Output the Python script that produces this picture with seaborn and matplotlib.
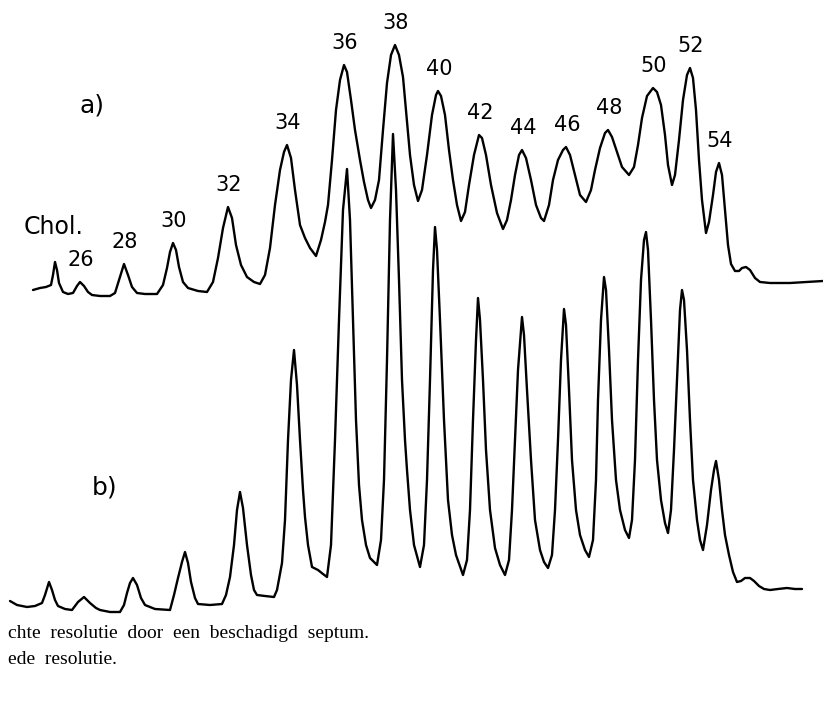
import matplotlib
matplotlib.use("Agg")
import matplotlib.pyplot as plt
import seaborn as sns
import pandas as pd

# ---------------- data ----------------
# trace a) : damaged septum, poor resolution  (time, signal)
a_time = [33, 40, 46, 51, 53, 55, 57, 59, 63, 68, 73, 77, 80, 84, 88, 92, 100, 110, 115, 119, 124, 128, 132, 137,
          145, 157, 163, 167, 170, 173, 176, 179, 183, 188, 198, 207, 213, 218, 223, 228, 232, 236, 241, 247, 254,
          260, 265, 270, 275, 280, 284, 287, 291, 295, 300, 305, 310, 316, 321, 325, 328, 332, 336, 340, 344, 347,
          351, 355, 360, 364, 368, 371, 375, 379, 383, 387, 391, 395, 399, 403, 406, 410, 414, 418, 422, 427, 432,
          436, 438, 441, 445, 449, 453, 457, 461, 465, 469, 474, 479, 482, 486, 491, 497, 503, 507, 511, 515, 519,
          522, 526, 531, 536, 541, 544, 549, 553, 558, 563, 566, 570, 575, 580, 586, 591, 595, 600, 605, 608, 612,
          617, 622, 629, 634, 638, 642, 647, 653, 657, 661, 665, 668, 672, 675, 679, 683, 687, 690, 693, 696, 699,
          702, 706, 709, 713, 716, 719, 722, 725, 728, 731, 735, 739, 742, 746, 750, 755, 760, 770, 790, 823]
a_page = [290, 288, 287, 285, 275, 262, 270, 283, 292, 294, 293, 286, 282, 286, 292, 295, 296, 296, 293, 280, 264, 275,
          287, 293, 294, 294, 285, 268, 252, 243, 250, 267, 282, 288, 291, 292, 282, 258, 228, 207, 218, 245, 265,
          277, 282, 284, 275, 248, 205, 170, 152, 145, 158, 190, 225, 238, 248, 256, 240, 222, 205, 160, 110, 80,
          65, 72, 100, 130, 160, 182, 200, 208, 200, 180, 130, 83, 55, 45, 55, 77, 110, 155, 185, 201, 190, 155,
          115, 95, 91, 96, 115, 150, 180, 205, 221, 212, 185, 155, 135, 138, 155, 185, 213, 229, 220, 200, 175,
          155, 150, 158, 180, 205, 218, 221, 205, 180, 160, 150, 147, 155, 175, 195, 202, 190, 170, 148, 133, 130,
          137, 152, 167, 175, 167, 145, 118, 96, 88, 92, 105, 135, 165, 185, 175, 140, 100, 75, 68, 78, 110, 160,
          200, 233, 222, 195, 172, 163, 175, 210, 245, 264, 271, 271, 268, 267, 270, 278, 282, 283, 283, 281]

# trace b) : good resolution
b_time = [10, 17, 27, 35, 42, 45, 49, 52, 55, 58, 65, 72, 78, 84, 90, 96, 100, 110, 120, 124, 127, 130, 133, 137, 141,
          145, 155, 170, 174, 178, 182, 185, 188, 191, 195, 198, 210, 222, 226, 230, 234, 237, 240, 243, 247, 251,
          254, 257, 265, 274, 277, 282, 285, 288, 291, 294, 297, 300, 303, 305, 308, 312, 318, 323, 327, 331, 335,
          339, 343, 347, 350, 353, 356, 359, 362, 366, 370, 377, 381, 384, 387, 390, 393, 396, 399, 402, 405, 407,
          410, 414, 420, 424, 427, 430, 433, 435, 437, 440, 444, 448, 452, 456, 463, 467, 470, 473, 476, 478, 480,
          483, 486, 490, 495, 500, 505, 509, 512, 515, 518, 522, 524, 527, 531, 535, 540, 544, 548, 552, 555, 558,
          561, 564, 566, 569, 572, 576, 580, 585, 589, 593, 596, 598, 601, 604, 606, 609, 612, 616, 620, 625, 629,
          632, 635, 638, 641, 644, 646, 648, 651, 654, 657, 661, 665, 668, 671, 674, 677, 680, 682, 684, 687, 690,
          693, 697, 700, 703, 707, 711, 714, 716, 719, 722, 725, 729, 733, 737, 741, 745, 750, 754, 759, 764, 770,
          778, 787, 795, 802]
b_page = [601, 605, 607, 606, 603, 595, 582, 590, 600, 606, 609, 610, 602, 597, 603, 608, 610, 612, 612, 605, 593, 583,
          578, 585, 598, 605, 609, 610, 595, 578, 562, 552, 563, 582, 598, 604, 605, 604, 595, 577, 545, 510, 492,
          508, 545, 575, 590, 595, 596, 597, 590, 563, 520, 440, 380, 350, 385, 440, 490, 517, 545, 567, 570, 574,
          577, 545, 440, 320, 210, 169, 220, 320, 420, 485, 520, 545, 558, 565, 540, 480, 360, 220, 134, 190, 280,
          380, 440, 470, 510, 545, 567, 545, 480, 380, 270, 227, 250, 320, 420, 500, 535, 555, 575, 560, 510, 420,
          340, 298, 320, 380, 450, 510, 548, 565, 575, 560, 510, 440, 370, 317, 335, 390, 460, 520, 550, 562, 568,
          555, 510, 440, 360, 309, 325, 390, 460, 510, 535, 550, 557, 540, 480, 400, 320, 277, 290, 350, 420, 480,
          510, 530, 538, 520, 460, 360, 280, 240, 232, 250, 320, 400, 460, 500, 523, 533, 510, 450, 380, 310, 290,
          300, 350, 420, 480, 520, 540, 550, 525, 490, 470, 461, 480, 510, 535, 555, 572, 582, 581, 578, 578, 581,
          586, 589, 590, 589, 588, 589, 589]

# peak labels of trace a) (carbon numbers) and the time of their apex
peak_labels = ["26", "28", "30", "32", "34", "36", "38", "40", "42", "44", "46", "48", "50", "52", "54"]
peak_times = [80, 124, 173, 228, 287, 344, 395, 438, 479, 522, 566, 608, 653, 690, 719]
chol_time = 55

caption_lines = ["chte  resolutie  door  een  beschadigd  septum.",
                 "ede  resolutie."]

# ---------------- figure ----------------
H = 708
sns.set_theme(style="white")
plt.rcParams['font.family'] = ['DejaVu Sans']

fig = plt.figure(figsize=(8.23, 7.08), dpi=100)
ax = fig.add_axes([0, 0, 1, 1])

df = pd.concat([
    pd.DataFrame({"time": a_time, "signal": [H - v for v in a_page], "trace": "a"}),
    pd.DataFrame({"time": b_time, "signal": [H - v for v in b_page], "trace": "b"}),
])
sns.lineplot(data=df, x="time", y="signal", units="trace", estimator=None, sort=False,
             color="black", lw=1.7, ax=ax, legend=False)

ax.set_xlim(0, 823)
ax.set_ylim(0, H)
ax.axis("off")

# peak labels
sig_a = dict(zip(a_time, [H - v for v in a_page]))
for lab, t in zip(peak_labels, peak_times):
    ax.text(t + 1, sig_a[t] + 12, lab, ha="center", va="bottom", fontsize=15, color="black")
ax.text(chol_time - 31, sig_a[chol_time] + 23, "Chol.", ha="left", va="bottom", fontsize=17, color="black")

ax.text(80, H - 106, "a)", ha="left", va="center", fontsize=18, color="black")
ax.text(92, H - 488, "b)", ha="left", va="center", fontsize=18, color="black")

for i, line in enumerate(caption_lines):
    ax.text(8, H - 633 - 27 * i, line, ha="left", va="center", fontsize=14,
            family=["Liberation Serif", "DejaVu Serif"], color="black")

fig.savefig("out.png", dpi=100, facecolor="white")
